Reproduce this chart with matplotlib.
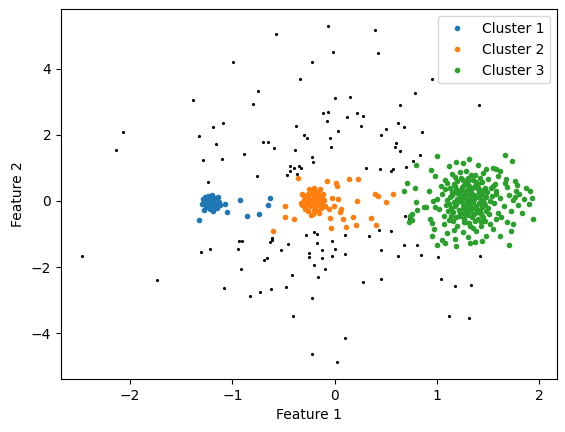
import matplotlib
matplotlib.use('Agg')
import matplotlib.pyplot as plt

# noise points (black)
noise_x = [-2.07, -2.135, -2.47, -0.577, -0.991, -0.336, -0.747, -1.382, -0.796, -1.089, -1.187,
           -0.375, -1.324, -0.297, -0.062, 0.397, -0.014, 0.426, -0.219, 0.006, 0.152, 0.788,
           0.641, -0.111, -0.062, -0.072, 0.123, 0.221, 0.280, 0.260, 0.035, 0.622, 0.680,
           0.504, 0.456, 0.856, -0.268, -0.043, 0.954, 1.413,
           -1.163, -1.284, -1.099, -0.884, -0.698, -0.649, -0.590, -0.385, -0.434, -0.401,
           -0.346, -0.326, -0.434, -0.463, -0.366, -0.757, -1.236, -0.933, -0.903, -0.610,
           -0.610, -0.630, -0.454, -1.304, -1.216, -0.942, -0.522, -0.659, -0.688, -0.913,
           -0.033, 0.602, 0.592, 0.641, 0.837, 0.768, -0.219, -0.209, 0.309, 0.446, 0.553,
           0.573, 0.700, 0.690, 0.729, -0.278, -0.199, -0.170, 0.104, 0.338, 0.436, 0.553,
           -0.170, -0.023, 0.680, 0.807, -0.121, 0.006, 0.456, -0.248, -0.248, -0.023, 0.104,
           -0.121, 0.622, 0.847, -0.199, -0.092, 1.013, 1.423, -1.734, -1.079, -0.825, -0.727,
           -0.620, -0.473, -0.414, -0.405, -0.160, 0.280, 0.456, -0.219, 0.104, -0.219, 0.025,
           1.042, 1.179, 1.335, 1.120, 1.316]
noise_y = [2.10, 1.54, -1.66, 5.05, 4.20, 3.69, 3.32, 3.05, 2.93, 2.35, 2.23,
           2.26, 1.96, 1.99, 5.29, 5.17, 4.51, 4.48, 4.20, 3.11, 3.15, 3.26,
           2.91, 2.66, 2.69, 2.42, 2.54, 2.66, 2.57, 2.26, 2.11, 2.35, 2.23,
           2.17, 1.99, 2.08, 1.90, 1.90, 3.69, 2.91,
           1.72, 1.23, 1.26, 1.42, 1.78, 1.78, 1.60, 1.54, 1.05, 0.99,
           1.05, 0.99, 0.90, 0.78, 0.81, 0.75, 0.57, -1.22, -1.22, -1.13,
           -1.19, -1.25, -1.31, -1.55, -1.46, -1.46, -1.49, -1.74, -1.80, -2.07,
           1.63, 1.75, 1.63, 1.51, 1.38, 1.20, 1.32, 1.17, 0.99, 0.96, 0.90,
           0.96, 1.02, -0.46, -0.52, -1.04, -0.95, -1.01, -1.04, -1.07, -0.89, -0.92,
           -1.28, -1.22, -1.34, -1.34, -1.49, -1.46, -1.49, -1.58, -1.71, -1.68, -1.62,
           -1.74, -1.68, -1.65, -1.95, -2.07, -1.71, -1.68, -2.40, -2.65, -2.89, -2.77,
           -2.68, -2.62, -2.25, -3.49, -2.31, -2.46, -2.37, -2.95, -4.16, -4.62, -4.89,
           -2.37, -2.58, -2.55, -3.49, -3.55]

# cluster 1 (blue)
c1_x = [-1.29, -1.27, -1.25, -1.24, -1.23, -1.22, -1.21, -1.20, -1.19, -1.18, -1.17, -1.16,
        -1.15, -1.14, -1.13, -1.26, -1.28, -1.22, -1.19, -1.24, -1.20, -1.16, -1.12, -1.30,
        -1.25, -1.21, -1.18, -1.23, -1.27, -1.15,
        -1.324, -1.069, -1.050, -0.923, -0.854, -0.737, -0.649, -0.630]
c1_y = [0.05, -0.02, 0.08, -0.10, 0.02, -0.05, 0.10, -0.15, 0.00, 0.06, -0.08, 0.03,
        -0.20, 0.12, -0.03, -0.18, -0.28, -0.25, -0.30, 0.15, 0.17, 0.10, -0.12, -0.08,
        -0.12, -0.20, -0.22, 0.12, 0.12, -0.10,
        -0.585, -0.10, -0.34, 0.02, -0.46, -0.40, -0.13, 0.08]

# cluster 2 (orange)
c2_x = [-0.20, -0.22, -0.18, -0.25, -0.15, -0.28, -0.12, -0.21, -0.19, -0.24, -0.16, -0.30,
        -0.10, -0.23, -0.17, -0.26, -0.13, -0.20, -0.21, -0.29, -0.11, -0.27, -0.14, -0.24,
        -0.18, -0.22, -0.16, -0.26, -0.09, -0.32, -0.19, -0.14, -0.25, -0.31, -0.12, -0.20,
        -0.23, -0.17, -0.27, -0.15,
        -0.356, -0.317, -0.326, -0.483, -0.483, -0.395, -0.600, -0.072, 0.016, 0.025, 0.143,
        0.231, -0.023, 0.035, -0.004, -0.053, 0.065, 0.055, 0.221, 0.397, 0.426, 0.573,
        0.504, -0.043, 0.084, 0.182, 0.358, 0.113, 0.211, -0.033, 0.407]
c2_y = [0.00, 0.05, -0.05, 0.10, 0.12, -0.08, -0.10, 0.20, -0.20, -0.15, 0.25, 0.02,
        0.03, 0.30, -0.30, 0.22, -0.22, 0.38, -0.38, -0.25, 0.20, 0.15, 0.00, -0.02,
        0.08, -0.10, -0.12, -0.30, -0.15, -0.12, 0.30, 0.35, 0.35, 0.18, 0.10, -0.28,
        -0.42, 0.18, 0.05, -0.35,
        0.69, 0.20, -0.07, -0.16, -0.49, -0.55, -0.92, 0.60, 0.54, 0.45, 0.66,
        0.66, 0.08, 0.05, -0.16, -0.25, -0.25, -0.34, -0.01, 0.20, 0.14, 0.20,
        -0.04, -0.52, -0.55, -0.49, -0.52, -0.80, -0.74, -0.83, -0.74]

# cluster 3 (green)
c3_x = [0.798, 0.710, 0.788, 0.680, 0.798, 0.807, 0.759, 0.739, 0.759, 0.729, 0.876,
        1.003, 1.668, 1.736, 0.944, 1.189, 1.316, 0.895, 0.983, 0.964, 0.934, 0.954, 0.954,
        1.003, 1.081, 1.189, 1.326, 1.374, 1.443, 1.707, 1.941, 1.746, 1.795, 1.902, 1.932,
        1.912, 1.873, 1.765, 1.677, 1.775, 1.765, 1.580,
        1.31, 1.25, 1.38, 1.22, 1.35, 1.29, 1.41, 1.18, 1.33, 1.27, 1.44, 1.20, 1.36, 1.24,
        1.47, 1.15, 1.30, 1.39, 1.21, 1.34, 1.26, 1.42, 1.17, 1.32, 1.45, 1.23, 1.37, 1.28,
        1.19, 1.40, 1.13, 1.50, 1.30, 1.35, 1.22, 1.46, 1.16, 1.33, 1.26, 1.43, 1.12, 1.48,
        1.28, 1.38, 1.20, 1.34, 1.25, 1.41, 1.31, 1.18, 1.52, 1.14, 1.36, 1.27, 1.44, 1.23,
        1.39, 1.29, 1.21, 1.47,
        1.10, 1.25, 1.38, 1.50, 1.18, 1.33, 1.45, 1.22, 1.08, 1.57, 1.30, 1.42, 1.15, 1.60,
        1.28, 1.12, 1.27, 1.40, 1.52, 1.20, 1.35, 1.47, 1.07, 1.31, 1.58, 1.17, 1.43, 1.25,
        1.38, 1.10, 1.55, 1.58, 1.62, 1.65, 1.60, 1.68, 1.55, 1.70, 1.72, 1.63, 1.05, 1.02,
        1.04, 1.07, 1.00, 1.08, 1.09, 1.58, 1.56, 1.66, 1.74,
        1.12, 1.40, 1.55, 1.25, 1.62, 1.48, 0.98, 1.78, 1.83, 1.80, 1.68, 1.62, 1.30, 1.18,
        1.48, 0.97, 1.05, 1.72, 1.85, 0.92,
        1.24, 1.36, 1.29, 1.33, 1.19, 1.42, 1.27, 1.39, 1.15, 1.46, 1.22, 1.31, 1.34, 1.17,
        1.49, 1.11, 1.40, 1.26, 1.45, 1.20, 1.35, 1.53, 1.13, 1.51, 1.28, 1.37, 1.16, 1.44,
        1.23, 1.32, 1.54, 1.10, 1.48, 1.14, 1.41, 1.26, 1.37, 1.19, 1.30, 1.43]
c3_y = [1.08, 0.54, 0.38, 0.29, -0.04, -0.28, -0.40, -0.46, -0.58, -0.65, -0.19,
        1.35, 1.38, 1.20, 0.93, 1.17, 1.26, -0.19, -0.19, -0.01, -0.55, -0.68, -1.07,
        -1.34, -1.28, -1.37, -1.28, -1.25, -1.22, -1.34, -0.55, -0.71, -0.13, -0.10, 0.08,
        0.29, 0.38, 0.60, 0.66, 0.29, 0.11, 0.96,
        0.02, -0.08, 0.11, 0.19, -0.21, 0.33, -0.05, -0.15, 0.27, -0.31, 0.21, 0.05, -0.38, 0.41,
        -0.12, 0.28, -0.44, 0.38, -0.26, 0.09, 0.14, -0.29, -0.03, -0.11, 0.04, -0.39, 0.45, -0.19,
        0.36, 0.16, 0.12, -0.22, 0.22, -0.02, -0.47, 0.32, -0.33, -0.31, 0.48, -0.40, -0.09, 0.12,
        0.07, -0.14, 0.24, 0.39, -0.22, 0.28, -0.27, 0.44, 0.01, -0.22, 0.19, -0.41, -0.18, 0.32,
        -0.34, -0.05, 0.00, 0.40,
        0.55, 0.62, 0.58, 0.66, 0.72, 0.78, 0.85, 0.88, 0.64, 0.52, 0.70, 0.68, 0.81, 0.75,
        0.92, -0.58, -0.63, -0.56, -0.70, -0.75, -0.82, -0.60, -0.70, -0.68, -0.55, -0.88, -0.77, -0.95,
        -0.92, -0.97, -0.86, 0.30, 0.10, -0.15, -0.35, 0.42, 0.45, 0.18, -0.30, -0.48, 0.20, -0.25,
        0.45, -0.45, 0.05, 0.35, -0.12, 0.20, -0.05, 0.55, 0.02,
        1.05, 1.10, 1.00, 1.15, 0.90, 0.98, 0.75, 0.48, -0.35, 0.22, -0.65, -1.05, -1.10, -1.15,
        -1.05, -0.85, -1.18, -0.90, 0.05, 0.30,
        0.05, 0.06, -0.14, 0.15, -0.09, 0.09, 0.26, -0.24, 0.18, -0.06, -0.35, 0.44, -0.48, 0.50,
        0.27, -0.30, 0.50, -0.55, -0.50, 0.60, 0.62, 0.38, 0.40, -0.38, 0.55, -0.60, -0.60, 0.58,
        0.70, -0.75, 0.15, 0.02, -0.30, -0.45, 0.35, -0.65, 0.80, -0.50, 0.60, -0.65]

fig = plt.figure(figsize=(5.65, 4.32), dpi=100)
ax = fig.add_axes([0.108, 0.1227, 0.8779, 0.8556])

ax.plot(noise_x, noise_y, 'k.', markersize=2.5)
ax.plot(c1_x, c1_y, '.', color='tab:blue', label='Cluster 1')
ax.plot(c2_x, c2_y, '.', color='tab:orange', label='Cluster 2')
ax.plot(c3_x, c3_y, '.', color='tab:green', label='Cluster 3')

ax.set_xlim(-2.675, 2.173)
ax.set_ylim(-5.39, 5.80)
ax.set_xlabel('Feature 1')
ax.set_ylabel('Feature 2')
ax.legend(loc='upper right')

fig.savefig('out.png', dpi=100)
